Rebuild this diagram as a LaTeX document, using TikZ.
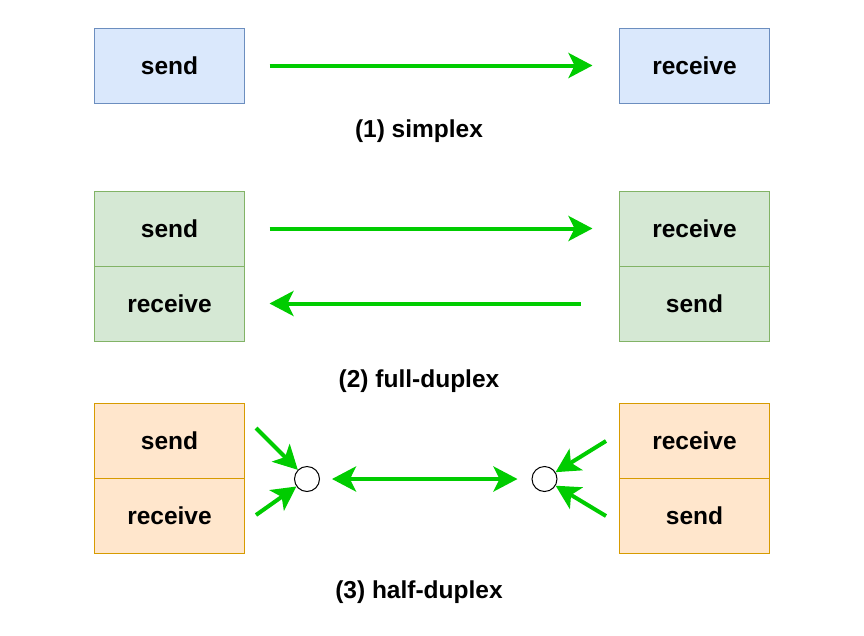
\documentclass[tikz,border=0pt]{standalone}
\usepackage{fontspec}
\setmainfont{Liberation Sans}
\usetikzlibrary{positioning,arrows.meta}
\definecolor{blueFill}{HTML}{DAE8FC}
\definecolor{blueLine}{HTML}{6C8EBF}
\definecolor{greenFill}{HTML}{D5E8D4}
\definecolor{greenLine}{HTML}{82B366}
\definecolor{orangeFill}{HTML}{FFE6CC}
\definecolor{orangeLine}{HTML}{D79B00}
\definecolor{flowGreen}{HTML}{00CC00}
\tikzset{
  box/.style={draw, line width=1pt, minimum width=150pt, minimum height=75pt,
    inner sep=0pt, outer sep=0pt, font=\fontsize{24.5}{29}\selectfont\bfseries},
  bluebox/.style={box, draw=blueLine, fill=blueFill},
  greenbox/.style={box, draw=greenLine, fill=greenFill},
  orangebox/.style={box, draw=orangeLine, fill=orangeFill},
  caption/.style={font=\fontsize{24.5}{29}\selectfont\bfseries},
  flow/.style={draw=flowGreen, line width=4pt, -{Stealth[length=24pt,width=25pt,inset=6pt]}},
  hub/.style={draw, circle, line width=1pt, fill=white, minimum size=25pt, inner sep=0pt}
}
\begin{document}
\begin{tikzpicture}[x=1pt,y=-1pt]
\useasboundingbox (0,0) rectangle (864,635);
% (1) simplex
\node[bluebox] (sxSend) at (169.5,65.5) {send};
\node[bluebox] (sxRecv) at (694.5,65.5) {receive};
\draw[flow, shorten <=25pt, shorten >=27pt] (sxSend.east) -- (sxRecv.west);
\node[caption] (sxCap) at (419,131.5) {(1) simplex};
% (2) full-duplex
\node[greenbox] (fdLSend) at (169.5,228.5) {send};
\node[greenbox, below = 0pt of fdLSend] (fdLRecv) {receive};
\node[greenbox] (fdRRecv) at (694.5,228.5) {receive};
\node[greenbox, below = 0pt of fdRRecv] (fdRSend) {send};
\draw[flow, shorten <=25pt, shorten >=27pt] (fdLSend.east) -- (fdRRecv.west);
\draw[flow, shorten <=39pt, shorten >=25pt] (fdRSend.west) -- (fdLRecv.east);
\node[caption] (fdCap) at (419,381.5) {(2) full-duplex};
% (3) half-duplex
\node[orangebox] (hdLSend) at (169.5,440.5) {send};
\node[orangebox, below = 0pt of hdLSend] (hdLRecv) {receive};
\node[orangebox] (hdRRecv) at (694.5,440.5) {receive};
\node[orangebox, below = 0pt of hdRRecv] (hdRSend) {send};
\node[hub] (hubL) at (307,479) {};
\node[hub] (hubR) at (544.5,479) {};
\coordinate (inLTop) at (256,428);
\coordinate (inLBot) at (256,515);
\coordinate (inRTop) at (606,441);
\coordinate (inRBot) at (606,516);
\draw[flow] (inLTop) -- (hubL);
\draw[flow] (inLBot) -- (hubL);
\draw[flow] (inRTop) -- (hubR);
\draw[flow] (inRBot) -- (hubR);
\draw[flow, {Stealth[length=24pt,width=25pt,inset=6pt]}-{Stealth[length=24pt,width=25pt,inset=6pt]},
  shorten <=12pt, shorten >=14pt] (hubL) -- (hubR);
\node[caption] (hdCap) at (419,592.5) {(3) half-duplex};
\end{tikzpicture}
\end{document}
